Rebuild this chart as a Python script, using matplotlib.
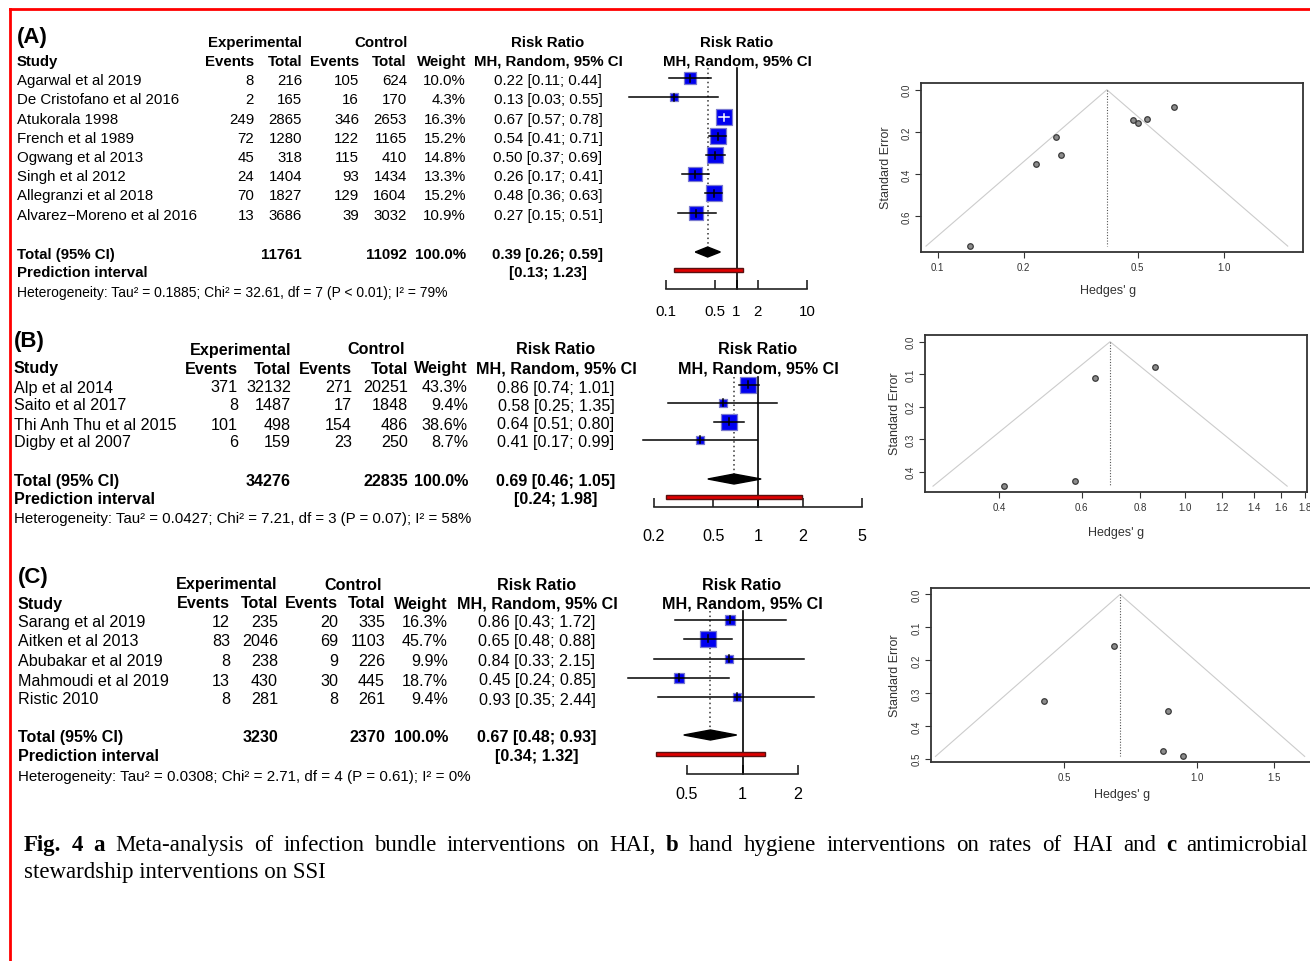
import numpy as np
import matplotlib
matplotlib.use("Agg")
import matplotlib.pyplot as plt
from matplotlib.patches import Polygon, Rectangle
from matplotlib.lines import Line2D
from matplotlib.ticker import NullLocator

plt.rcParams['font.family'] = ['Liberation Sans', 'DejaVu Sans']

W, H = 1310, 962

# ---- (A) infection bundle interventions on HAI ----
a_study = ["Agarwal et al 2019", "De Cristofano et al 2016", "Atukorala 1998", "French et al 1989",
           "Ogwang et al 2013", "Singh et al 2012", "Allegranzi et al 2018", "Alvarez\u2212Moreno et al 2016"]
a_ev_e = [8, 2, 249, 72, 45, 24, 70, 13]
a_n_e = [216, 165, 2865, 1280, 318, 1404, 1827, 3686]
a_ev_c = [105, 16, 346, 122, 115, 93, 129, 39]
a_n_c = [624, 170, 2653, 1165, 410, 1434, 1604, 3032]
a_wt = [10.0, 4.3, 16.3, 15.2, 14.8, 13.3, 15.2, 10.9]
a_rr = [0.22, 0.13, 0.67, 0.54, 0.50, 0.26, 0.48, 0.27]
a_lo = [0.11, 0.03, 0.57, 0.41, 0.37, 0.17, 0.36, 0.15]
a_hi = [0.44, 0.55, 0.78, 0.71, 0.69, 0.41, 0.63, 0.51]
a_se = [0.354, 0.742, 0.080, 0.140, 0.159, 0.225, 0.143, 0.312]
a_tot = [11761, 11092]
a_sum = [0.39, 0.26, 0.59]
a_pi = [0.13, 1.23]
a_het = "Heterogeneity: Tau\u00b2 = 0.1885; Chi\u00b2 = 32.61, df = 7 (P < 0.01); I\u00b2 = 79%"

# ---- (B) hand hygiene ----
b_study = ["Alp et al 2014", "Saito et al 2017", "Thi Anh Thu et al 2015", "Digby et al 2007"]
b_ev_e = [371, 8, 101, 6]
b_n_e = [32132, 1487, 498, 159]
b_ev_c = [271, 17, 154, 23]
b_n_c = [20251, 1848, 486, 250]
b_wt = [43.3, 9.4, 38.6, 8.7]
b_rr = [0.86, 0.58, 0.64, 0.41]
b_lo = [0.74, 0.25, 0.51, 0.17]
b_hi = [1.01, 1.35, 0.80, 0.99]
b_se = [0.079, 0.430, 0.113, 0.445]
b_tot = [34276, 22835]
b_sum = [0.69, 0.46, 1.05]
b_pi = [0.24, 1.98]
b_het = "Heterogeneity: Tau\u00b2 = 0.0427; Chi\u00b2 = 7.21, df = 3 (P = 0.07); I\u00b2 = 58%"

# ---- (C) antimicrobial stewardship ----
c_study = ["Sarang et al 2019", "Aitken et al 2013", "Abubakar et al 2019", "Mahmoudi et al 2019", "Ristic 2010"]
c_ev_e = [12, 83, 8, 13, 8]
c_n_e = [235, 2046, 238, 430, 281]
c_ev_c = [20, 69, 9, 30, 8]
c_n_c = [335, 1103, 226, 445, 261]
c_wt = [16.3, 45.7, 9.9, 18.7, 9.4]
c_rr = [0.86, 0.65, 0.84, 0.45, 0.93]
c_lo = [0.43, 0.48, 0.33, 0.24, 0.35]
c_hi = [1.72, 0.88, 2.15, 0.85, 2.44]
c_se = [0.354, 0.157, 0.478, 0.323, 0.493]
c_tot = [3230, 2370]
c_sum = [0.67, 0.48, 0.93]
c_pi = [0.34, 1.32]
c_het = "Heterogeneity: Tau\u00b2 = 0.0308; Chi\u00b2 = 2.71, df = 4 (P = 0.61); I\u00b2 = 0%"

fig = plt.figure(figsize=(W / 100, H / 100), dpi=100)
fig.patch.set_facecolor('white')


def t(x, y, s, ha='left', dy=2, **kw):
    # matplotlib's 'center' sits a little high compared with R's text, hence dy
    return fig.text(x / W, 1 - (y + dy) / H, s, ha=ha, va='center', **kw)


def table(p, study, ev_e, n_e, ev_c, n_c, wt, rr, lo, hi, tot, summ, pi, het):
    fs = p['fs']
    t(p['sx'], p['lab_y'], p['label'], fontsize=16, weight='bold')
    y1, y2 = p['h1'], p['h2']
    for x, s in zip([p['exp_c'], p['ctl_c'], p['rr_c'], p['f_c']],
                    ['Experimental', 'Control', 'Risk Ratio', 'Risk Ratio']):
        t(x, y1, s, ha='center', fontsize=fs, weight='bold')
    t(p['sx'], y2, 'Study', fontsize=fs, weight='bold')
    for x, s in zip(p['cols'], ['Events', 'Total', 'Events', 'Total', 'Weight']):
        t(x, y2, s, ha='right', fontsize=fs, weight='bold')
    t(p['rr_c'], y2, 'MH, Random, 95% CI', ha='center', fontsize=fs, weight='bold')
    t(p['f_c'], y2, 'MH, Random, 95% CI', ha='center', fontsize=fs, weight='bold')
    for i, y in enumerate(p['rows']):
        t(p['sx'], y, study[i], fontsize=fs)
        vals = [str(ev_e[i]), str(n_e[i]), str(ev_c[i]), str(n_c[i]), f'{wt[i]:.1f}%']
        for x, s in zip(p['cols'], vals):
            t(x, y, s, ha='right', fontsize=fs)
        t(p['rr_c'], y, f'{rr[i]:.2f} [{lo[i]:.2f}; {hi[i]:.2f}]', ha='center', fontsize=fs)
    ty = p['tot_y']
    t(p['sx'], ty, 'Total (95% CI)', fontsize=fs, weight='bold')
    t(p['cols'][1], ty, str(tot[0]), ha='right', fontsize=fs, weight='bold')
    t(p['cols'][3], ty, str(tot[1]), ha='right', fontsize=fs, weight='bold')
    t(p['cols'][4], ty, '100.0%', ha='right', fontsize=fs, weight='bold')
    t(p['rr_c'], ty, f'{summ[0]:.2f} [{summ[1]:.2f}; {summ[2]:.2f}]', ha='center', fontsize=fs, weight='bold')
    t(p['sx'], p['pi_y'], 'Prediction interval', fontsize=fs, weight='bold')
    t(p['rr_c'], p['pi_y'], f'[{pi[0]:.2f}; {pi[1]:.2f}]', ha='center', fontsize=fs, weight='bold')
    t(p['sx'], p['het_y'], het, fontsize=p['hfs'])


def forest(p, rr, lo, hi, wt, summ, pi):
    x0, x1 = p['fx']
    top, axy = p['ftop'], p['faxis']
    ax = fig.add_axes([x0 / W, 1 - axy / H, (x1 - x0) / W, (axy - top) / H])
    ax.set_xscale('log')
    ax.set_xlim(p['flim'])
    ax.set_ylim(axy, top)
    ax.patch.set_visible(False)
    for s in ('top', 'left', 'right'):
        ax.spines[s].set_visible(False)
    ax.spines['bottom'].set_linewidth(1.2)
    ax.spines['bottom'].set_color('#222222')
    ax.set_yticks([])
    ax.set_xticks(p['fticks'])
    ax.set_xticklabels([f'{v:g}' for v in p['fticks']])
    ax.xaxis.set_minor_locator(NullLocator())
    ax.tick_params(axis='x', direction='in', length=6.5, width=1.2, color='#222222',
                   labelsize=p['fs'], pad=p['tpad'])
    # reference lines
    ax.plot([1, 1], [top, axy], color='black', lw=1.2, clip_on=False)
    ax.plot([summ[0], summ[0]], [top, p['tot_y'] - 5], color='#333333', lw=1.1, ls=(0, (1, 2)), clip_on=False)
    wmax = max(wt)
    for i, y in enumerate(p['rows']):
        side = 16.5 * np.sqrt(wt[i] / wmax)
        ax.scatter([rr[i]], [y], marker='s', s=(side * 0.72) ** 2, facecolor='#0000f0',
                   edgecolor='#7a7ad0', linewidth=0.9, zorder=3, clip_on=False)
        # CI width in pixels decides line colour (white if hidden inside the box)
        ci_px = (x1 - x0) * np.log(hi[i] / lo[i]) / np.log(p['flim'][1] / p['flim'][0])
        col = 'white' if ci_px < side else 'black'
        ax.plot([lo[i], hi[i]], [y, y], color=col, lw=1.1, zorder=4, clip_on=False)
        ax.plot([rr[i], rr[i]], [y - 3.5, y + 3.5], color=col, lw=1.1, zorder=4, clip_on=False)
    ty = p['tot_y']
    ax.add_patch(Polygon([[summ[1], ty], [summ[0], ty - 5], [summ[2], ty], [summ[0], ty + 5]],
                         closed=True, facecolor='black', edgecolor='black', zorder=4, clip_on=False))
    py = p['pi_y']
    ax.add_patch(Rectangle((pi[0], py - 2.2), pi[1] - pi[0], 4.4, facecolor='#e00000',
                           edgecolor='#5a1010', lw=1.0, zorder=4, clip_on=False))


def funnel(f, rr, se, summ):
    l, r, tp, b = f['box']
    ax = fig.add_axes([l / W, 1 - b / H, (r - l) / W, (b - tp) / H])
    ax.set_xscale('log')
    ax.set_xlim(f['xlim'])
    ax.set_ylim(f['ylim'])
    smax = max(se)
    c = summ[0]
    ax.plot([c * np.exp(-1.96 * smax), c, c * np.exp(1.96 * smax)], [smax, 0, smax],
            color='#cccccc', lw=0.8)
    ax.plot([c, c], [0, smax], color='#555555', lw=0.8, ls=(0, (1, 1.5)))
    ax.scatter(rr, se, s=16, facecolor='#8c8c8c', edgecolor='#3a3a3a', linewidth=0.9, zorder=3)
    ax.set_xticks(f['xt'])
    ax.set_xticklabels([f'{v:.1f}' for v in f['xt']])
    ax.xaxis.set_minor_locator(NullLocator())
    ax.set_yticks(f['yt'])
    ax.set_yticklabels([f'{v:.1f}' for v in f['yt']])
    ax.tick_params(labelsize=7, colors='#333333', length=4, width=0.8, pad=3)
    for lab in ax.get_yticklabels():
        lab.set_rotation(90)
        lab.set_va('center')
    for s in ax.spines.values():
        s.set_color('#333333')
        s.set_linewidth(1.3)
    t(f['xl'][0], f['xl'][1], "Hedges' g", ha='center', fontsize=9, color='#333333')
    fig.text(f['yl'][0] / W, 1 - f['yl'][1] / H, 'Standard Error', rotation=90, ha='center',
             va='center', fontsize=9, color='#333333')


pa = dict(fs=10.8, hfs=10.0, label='(A)', sx=17, lab_y=36, h1=41, h2=60, exp_c=255, ctl_c=381, rr_c=548, f_c=737,
          cols=[254, 302, 359, 407, 466], rows=[79, 98, 118, 137, 156, 175, 194, 214],
          tot_y=253, pi_y=271, het_y=291, fx=(666, 807), flim=(0.1, 10), ftop=69, faxis=290,
          fticks=[0.1, 0.5, 1, 2, 10], tpad=10.5)
pb = dict(fs=11.6, hfs=10.8, label='(B)', sx=14, lab_y=340, h1=348, h2=367, exp_c=241, ctl_c=376, rr_c=556, f_c=758,
          cols=[238, 291, 352, 408, 468], rows=[386, 404, 423, 441],
          tot_y=480, pi_y=498, het_y=517, fx=(654, 862), flim=(0.2, 5), ftop=378, faxis=508,
          fticks=[0.2, 0.5, 1, 2, 5], tpad=15)
pc = dict(fs=11.6, hfs=10.9, label='(C)', sx=18, lab_y=575, h1=583, h2=602, exp_c=227, ctl_c=353, rr_c=537, f_c=742,
          cols=[230, 278, 338, 385, 448], rows=[621, 640, 660, 679, 698],
          tot_y=736, pi_y=755, het_y=775, fx=(687, 798), flim=(0.5, 2), ftop=612, faxis=775,
          fticks=[0.5, 1, 2], tpad=8.5)

table(pa, a_study, a_ev_e, a_n_e, a_ev_c, a_n_c, a_wt, a_rr, a_lo, a_hi, a_tot, a_sum, a_pi, a_het)
table(pb, b_study, b_ev_e, b_n_e, b_ev_c, b_n_c, b_wt, b_rr, b_lo, b_hi, b_tot, b_sum, b_pi, b_het)
table(pc, c_study, c_ev_e, c_n_e, c_ev_c, c_n_c, c_wt, c_rr, c_lo, c_hi, c_tot, c_sum, c_pi, c_het)
forest(pa, a_rr, a_lo, a_hi, a_wt, a_sum, a_pi)
forest(pb, b_rr, b_lo, b_hi, b_wt, b_sum, b_pi)
forest(pc, c_rr, c_lo, c_hi, c_wt, c_sum, c_pi)

fa = dict(box=(921, 1303, 84, 253), xlim=(0.0875, 1.888), ylim=(0.77, -0.032),
          xt=[0.1, 0.2, 0.5, 1.0], yt=[0.0, 0.2, 0.4, 0.6], xl=(1108, 289), yl=(886, 168))
fb = dict(box=(925, 1307, 336, 493), xlim=(0.2773, 1.82), ylim=(0.463, -0.0206),
          xt=[0.4, 0.6, 0.8, 1.0, 1.2, 1.4, 1.6, 1.8], yt=[0.0, 0.1, 0.2, 0.3, 0.4], xl=(1116, 531), yl=(895, 414))
fc = dict(box=(931, 1320, 589, 763), xlim=(0.249, 1.908), ylim=(0.51, -0.0195),
          xt=[0.5, 1.0, 1.5], yt=[0.0, 0.1, 0.2, 0.3, 0.4, 0.5], xl=(1122, 793), yl=(895, 676))
funnel(fa, a_rr, a_se, a_sum)
funnel(fb, b_rr, b_se, b_sum)
funnel(fc, c_rr, c_se, c_sum)

# caption, first line justified between x=24 and x=1308
cap1 = [("Fig.", True), ("4", True), ("a", True), ("Meta-analysis", False), ("of", False),
        ("infection", False), ("bundle", False), ("interventions", False), ("on", False), ("HAI,", False),
        ("b", True), ("hand", False), ("hygiene", False), ("interventions", False), ("on", False),
        ("rates", False), ("of", False), ("HAI", False), ("and", False), ("c", True), ("antimicrobial", False)]
cap2 = "stewardship interventions on SSI"
cfs = 16.5
words = [t(0, 844, w, fontsize=cfs, family='Liberation Serif', weight='bold' if b else 'normal')
         for w, b in cap1]
r = fig.canvas.get_renderer()
widths = [w.get_window_extent(r).width for w in words]
gap = (1308 - 24 - sum(widths)) / (len(words) - 1)
x = 24
for w, wd in zip(words, widths):
    w.set_x(x / W)
    x += wd + gap
t(24, 871, cap2, fontsize=cfs, family='Liberation Serif')

# red frame
fig.add_artist(Line2D([10 / W, 1], [1 - 10 / H, 1 - 10 / H], color='red', lw=2))
fig.add_artist(Line2D([10 / W, 10 / W], [1 - 10 / H, 0], color='red', lw=2))

fig.savefig('out.png', dpi=100)
